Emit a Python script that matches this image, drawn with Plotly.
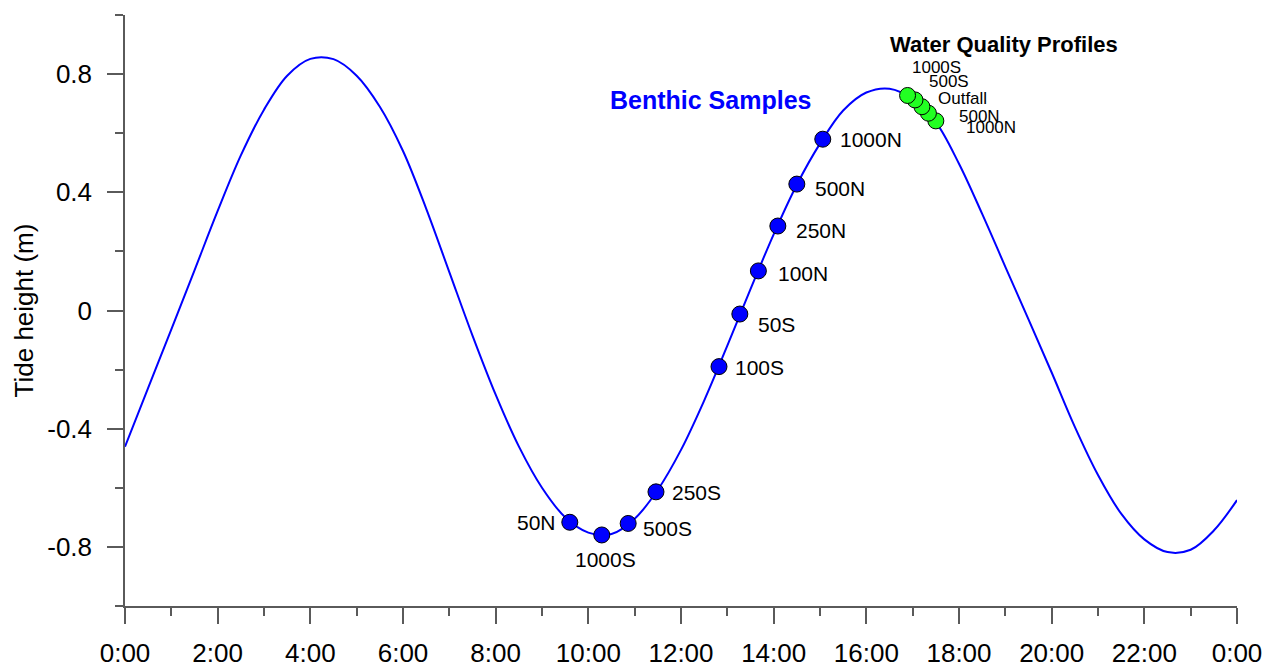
import plotly.graph_objects as go

# Tide curve over one day (hours since midnight, metres), half-hour steps
hours = [0.0, 0.5, 1.0, 1.5, 2.0, 2.5, 3.0, 3.5, 4.0, 4.5, 5.0, 5.5, 6.0,
         6.5, 7.0, 7.5, 8.0, 8.5, 9.0, 9.5, 10.0, 10.5, 11.0, 11.5, 12.0,
         12.5, 13.0, 13.5, 14.0, 14.5, 15.0, 15.5, 16.0, 16.5, 17.0, 17.5,
         18.0, 18.5, 19.0, 19.5, 20.0, 20.5, 21.0, 21.5, 22.0, 22.5, 23.0,
         23.5, 24.0]
tide = [-0.461, -0.262, -0.064, 0.136, 0.337, 0.525, 0.680, 0.795, 0.852,
        0.851, 0.795, 0.690, 0.540, 0.345, 0.130, -0.085, -0.285, -0.460,
        -0.600, -0.700, -0.752, -0.757, -0.705, -0.607, -0.472, -0.305,
        -0.119, 0.072, 0.258, 0.426, 0.565, 0.677, 0.738, 0.751, 0.716,
        0.638, 0.497, 0.327, 0.148, -0.030, -0.210, -0.394, -0.557, -0.688,
        -0.775, -0.818, -0.810, -0.745, -0.642]

# Benthic sampling stations
benthic_site = ["50N", "1000S", "500S", "250S", "100S", "50S", "100N", "250N", "500N", "1000N"]
benthic_time = [9.60, 10.29, 10.86, 11.46, 12.82, 13.27, 13.67, 14.09, 14.50, 15.06]
benthic_height = [-0.717, -0.760, -0.721, -0.614, -0.190, -0.012, 0.134, 0.286, 0.428, 0.580]

# Water quality profile stations
profile_site = ["1000S", "500S", "Outfall", "500N", "1000N"]
profile_time = [16.89, 17.05, 17.20, 17.34, 17.50]
profile_height = [0.728, 0.713, 0.690, 0.668, 0.642]

# Axis ticks
x_tickvals = [0, 2, 4, 6, 8, 10, 12, 14, 16, 18, 20, 22, 24]
x_ticktext = ["0:00", "2:00", "4:00", "6:00", "8:00", "10:00", "12:00", "14:00",
              "16:00", "18:00", "20:00", "22:00", "0:00"]
y_tickvals = [-0.8, -0.4, 0, 0.4, 0.8]
y_ticktext = ["-0.8", "-0.4", "0", "0.4", "0.8"]

FONT = "Arial, Liberation Sans, sans-serif"
AXIS_COLOR = "#5a5a5a"

# label placement: (xanchor, xshift, yshift) in pixels
benthic_label_style = {
    "50N": ("right", -12, 0),
    "1000S": ("center", 4, -25),
    "500S": ("left", 13, -5),
    "250S": ("left", 14, -1),
    "100S": ("left", 14, -1),
    "50S": ("left", 16, -10),
    "100N": ("left", 18, -3),
    "250N": ("left", 16, -4),
    "500N": ("left", 16, -4),
    "1000N": ("left", 15, 0),
}
profile_label_style = {
    "1000S": (3, 28),
    "500S": (13, 18),
    "Outfall": (15, 8),
    "500N": (30, -3),
    "1000N": (29, -7),
}

fig = go.Figure()

fig.add_trace(go.Scatter(
    x=hours, y=tide, mode="lines",
    line=dict(color="#0000ff", width=2, shape="spline", smoothing=1.0),
    hoverinfo="skip", showlegend=False,
))

fig.add_trace(go.Scatter(
    x=benthic_time, y=benthic_height, mode="markers",
    marker=dict(size=16, color="#0000ff", line=dict(color="#000000", width=1)),
    text=benthic_site, showlegend=False,
))

# draw profile stations so the earliest sits on top
fig.add_trace(go.Scatter(
    x=profile_time[::-1], y=profile_height[::-1], mode="markers",
    marker=dict(size=16, color="#22ff22", line=dict(color="#000000", width=1)),
    text=profile_site[::-1], showlegend=False,
))

annotations = []
for site, t, h in zip(benthic_site, benthic_time, benthic_height):
    anchor, dx, dy = benthic_label_style[site]
    annotations.append(dict(
        x=t, y=h, xref="x", yref="y", text=site, showarrow=False,
        xanchor=anchor, yanchor="middle", xshift=dx, yshift=dy,
        font=dict(family=FONT, size=21, color="#000000"),
    ))
for site, t, h in zip(profile_site, profile_time, profile_height):
    dx, dy = profile_label_style[site]
    annotations.append(dict(
        x=t, y=h, xref="x", yref="y", text=site, showarrow=False,
        xanchor="left", yanchor="middle", xshift=dx, yshift=dy, borderpad=0,
        font=dict(family=FONT, size=17, color="#000000"),
    ))

annotations.append(dict(
    x=12.64, y=0.713, xref="x", yref="y", text="<b>Benthic Samples</b>",
    showarrow=False, xanchor="center", yanchor="middle",
    font=dict(family=FONT, size=25, color="#0000ff"),
))
annotations.append(dict(
    x=18.98, y=0.899, xref="x", yref="y", text="<b>Water Quality Profiles</b>",
    showarrow=False, xanchor="center", yanchor="middle",
    font=dict(family=FONT, size=22, color="#000000"),
))

fig.update_layout(
    width=1274, height=669,
    margin=dict(l=125, r=37, t=15, b=63, pad=0, autoexpand=False),
    paper_bgcolor="white", plot_bgcolor="white",
    font=dict(family=FONT, color="#000000"),
    annotations=annotations,
    showlegend=False,
)

fig.update_xaxes(
    range=[0, 24], showgrid=False, zeroline=False, automargin=False,
    showline=True, linecolor=AXIS_COLOR, linewidth=1.5,
    tickmode="array", tickvals=x_tickvals, ticktext=x_ticktext,
    ticks="outside", ticklen=16, tickcolor=AXIS_COLOR, tickwidth=1.5,
    tickfont=dict(family=FONT, size=26, color="#000000"),
    ticklabelstandoff=7,
    minor=dict(tickmode="linear", tick0=0, dtick=1, ticks="outside", ticklen=8,
               tickcolor=AXIS_COLOR, tickwidth=1.5, showgrid=False),
)

fig.update_yaxes(
    range=[-1.0005, 1.0005], showgrid=False, zeroline=False, automargin=False,
    showline=True, linecolor=AXIS_COLOR, linewidth=1.5,
    tickmode="array", tickvals=y_tickvals, ticktext=y_ticktext,
    ticks="outside", ticklen=16, tickcolor=AXIS_COLOR, tickwidth=1.5,
    tickfont=dict(family=FONT, size=26, color="#000000"),
    ticklabelstandoff=10,
    minor=dict(tickmode="linear", tick0=0, dtick=0.2, ticks="outside", ticklen=8,
               tickcolor=AXIS_COLOR, tickwidth=1.5, showgrid=False),
    title=dict(text="Tide height (m)", standoff=6,
               font=dict(family=FONT, size=26, color="#000000")),
)

fig.write_html("out.html")
